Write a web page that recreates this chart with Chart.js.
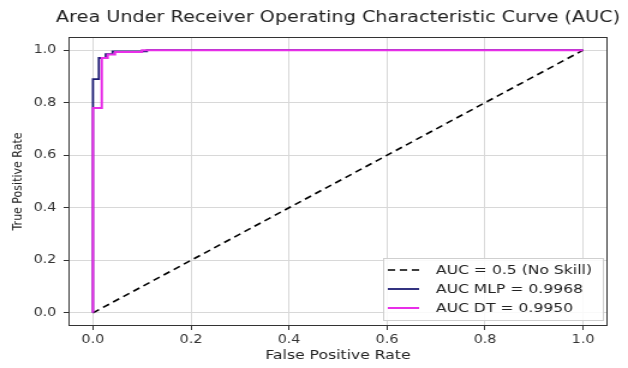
<!DOCTYPE html>
<html>
<head>
<meta charset="utf-8">
<script src="https://cdn.jsdelivr.net/npm/chart.js@4.4.1/dist/chart.umd.min.js"></script>
<style>
  html, body { margin: 0; padding: 0; background: #fff; }
  #rocChart { display: block; }
</style>
</head>
<body>
<!-- the reference is a horizontally stretched figure, so the canvas is drawn narrow and stretched -->
<canvas id="rocChart" width="523" height="368" style="width:628px;height:368px"></canvas>
<script>
// ROC data
const noSkillFpr = [0, 1];
const noSkillTpr = [0, 1];
const mlpFpr = [0, 0, 0.012, 0.012, 0.026, 0.026, 0.04, 0.04, 0.11, 0.11, 1];
const mlpTpr = [0, 0.89, 0.89, 0.97, 0.97, 0.985, 0.985, 0.995, 0.995, 1, 1];
const dtFpr = [0, 0, 0.018, 0.018, 0.03, 0.03, 0.045, 0.045, 0.1, 0.1, 1];
const dtTpr = [0, 0.78, 0.78, 0.97, 0.97, 0.983, 0.983, 0.993, 0.993, 1, 1];
const tickValues = [0, 0.2, 0.4, 0.6, 0.8, 1.0];
const seriesLabels = ['AUC = 0.5 (No Skill)', 'AUC MLP = 0.9968', 'AUC DT = 0.9950'];
const chartTitle = 'Area Under Receiver Operating Characteristic Curve (AUC)';

const toPoints = (xs, ys) => xs.map((x, i) => ({ x: x, y: ys[i] }));
const FONT = 'DejaVu Sans';

// title, frame around plot and a matplotlib-like legend
const framePlugin = {
  id: 'frame',
  afterDatasetsDraw(chart) {
    const { ctx, chartArea: a } = chart;
    ctx.save();
    ctx.strokeStyle = '#333';
    ctx.lineWidth = 1;
    ctx.strokeRect(a.left + 0.5, a.top + 0.5, a.right - a.left - 1, a.bottom - a.top - 1);

    // title
    ctx.fillStyle = '#222';
    ctx.font = '16px ' + FONT;
    ctx.textAlign = 'center';
    ctx.textBaseline = 'middle';
    ctx.fillText(chartTitle, (a.left + a.right) / 2, 18);

    // legend box
    const w = 183, h = 62;
    const lx = a.right - w - 4, ly = a.bottom - h - 6;
    ctx.fillStyle = 'rgba(255,255,255,0.85)';
    ctx.strokeStyle = '#cfcfcf';
    ctx.fillRect(lx, ly, w, h);
    ctx.strokeRect(lx + 0.5, ly + 0.5, w, h);
    ctx.font = '13px ' + FONT;
    ctx.textAlign = 'left';
    chart.data.datasets.forEach((ds, i) => {
      const y = ly + 12 + i * 19;
      ctx.beginPath();
      ctx.setLineDash(ds.borderDash || []);
      ctx.strokeStyle = ds.borderColor;
      ctx.lineWidth = ds.borderWidth;
      ctx.moveTo(lx + 4, y);
      ctx.lineTo(lx + 30, y);
      ctx.stroke();
      ctx.setLineDash([]);
      ctx.fillStyle = '#222';
      ctx.fillText(ds.label, lx + 44, y + 1);
    });
    ctx.restore();
  }
};

const axisBase = () => ({
  type: 'linear',
  min: -0.05,
  max: 1.05,
  afterBuildTicks: (scale) => { scale.ticks = tickValues.map(v => ({ value: v })); },
  grid: {
    color: '#d8d8d8',
    lineWidth: 1,
    drawTicks: true,
    tickLength: 4,
    tickColor: '#333'
  },
  border: { display: false },
  ticks: {
    color: '#333',
    font: { family: FONT, size: 12 },
    padding: 4,
    callback: (v) => Number(v).toFixed(1)
  }
});

const xAxis = axisBase();
xAxis.ticks.padding = 3;
xAxis.title = { display: true, text: 'False Positive Rate', color: '#222', font: { family: FONT, size: 13 }, padding: { top: 0, bottom: 5 } };
xAxis.afterFit = (scale) => { scale.height = 42; };

const yAxis = axisBase();
yAxis.ticks.padding = 6;
yAxis.title = { display: true, text: 'True Positive Rate', color: '#222', font: { family: FONT, size: 11 }, padding: { top: 9, bottom: 0 } };
yAxis.afterFit = (scale) => { scale.width = 57; };

new Chart(document.getElementById('rocChart'), {
  type: 'scatter',
  data: {
    datasets: [
      {
        label: seriesLabels[0],
        data: toPoints(noSkillFpr, noSkillTpr),
        showLine: true,
        borderColor: '#000',
        borderDash: [6, 4],
        borderWidth: 1.6,
        pointRadius: 0,
        order: 2
      },
      {
        label: seriesLabels[1],
        data: toPoints(mlpFpr, mlpTpr),
        showLine: true,
        borderColor: '#1c1c72',
        borderWidth: 1.8,
        pointRadius: 0,
        order: 1
      },
      {
        label: seriesLabels[2],
        data: toPoints(dtFpr, dtTpr),
        showLine: true,
        borderColor: '#e82ee8',
        borderWidth: 2,
        pointRadius: 0,
        order: 0
      }
    ]
  },
  options: {
    responsive: false,
    animation: false,
    devicePixelRatio: 1,
    layout: { padding: { left: 0, right: 17, top: 37, bottom: 0 } },
    plugins: {
      legend: { display: false },
      tooltip: { enabled: false },
      title: { display: false }
    },
    scales: { x: xAxis, y: yAxis }
  },
  plugins: [framePlugin]
});
</script>
</body>
</html>
